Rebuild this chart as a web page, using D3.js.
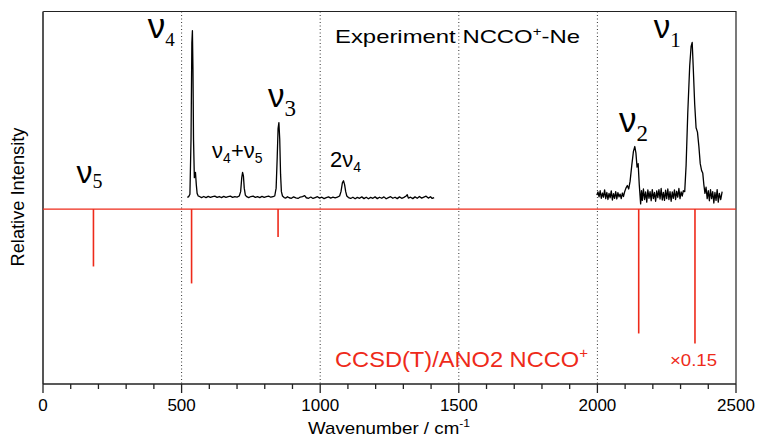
<!DOCTYPE html>
<html>
<head>
<meta charset="utf-8">
<script src="https://cdn.jsdelivr.net/npm/d3@7"></script>
<style>
  body { margin: 0; background: #fff; }
  text { font-family: "Liberation Sans", Arial, sans-serif; }
</style>
</head>
<body>
<figure style="margin:0"></figure>
<script>
// experimental trace, low range  [wavenumber, intensity]
const expLow = [
  [520, 0.068], [525, 0.070], [530, 0.085], [534, 0.40], [537, 0.95], [539, 1.02], [541, 0.80],
  [543, 0.40], [546, 0.18], [550, 0.21], [553, 0.14], [556, 0.09], [560, 0.075], [566, 0.071],
  [572, 0.066], [580, 0.072], [588, 0.066], [596, 0.073], [604, 0.067], [612, 0.071], [620, 0.074],
  [628, 0.067], [636, 0.072], [644, 0.066], [652, 0.073], [660, 0.067], [668, 0.071], [676, 0.074],
  [684, 0.067], [692, 0.071], [700, 0.069], [708, 0.075], [713, 0.10], [717, 0.18], [720, 0.21],
  [723, 0.19], [726, 0.12], [730, 0.08], [735, 0.071], [742, 0.066], [750, 0.072], [758, 0.074],
  [766, 0.067], [774, 0.071], [782, 0.066], [790, 0.073], [798, 0.067], [806, 0.071], [814, 0.074],
  [822, 0.068], [830, 0.072], [836, 0.075], [841, 0.12], [845, 0.30], [848, 0.46], [851, 0.495],
  [854, 0.40], [857, 0.20], [860, 0.10], [864, 0.075], [870, 0.066], [876, 0.063], [882, 0.071],
  [888, 0.065], [896, 0.062], [904, 0.070], [912, 0.064], [920, 0.061], [928, 0.069], [936, 0.072],
  [944, 0.077], [950, 0.065], [958, 0.062], [966, 0.069], [974, 0.061], [982, 0.066], [990, 0.071],
  [998, 0.063], [1006, 0.068], [1014, 0.060], [1022, 0.066], [1030, 0.070], [1038, 0.063],
  [1046, 0.068], [1054, 0.064], [1062, 0.069], [1070, 0.075], [1075, 0.10], [1080, 0.15],
  [1084, 0.162], [1088, 0.14], [1092, 0.10], [1096, 0.075], [1102, 0.066], [1110, 0.061],
  [1118, 0.068], [1126, 0.059], [1134, 0.067], [1142, 0.062], [1150, 0.070], [1158, 0.060],
  [1166, 0.068], [1174, 0.059], [1182, 0.067], [1190, 0.062], [1198, 0.070], [1206, 0.060],
  [1214, 0.068], [1222, 0.062], [1230, 0.070], [1238, 0.059], [1246, 0.066], [1254, 0.071],
  [1262, 0.062], [1270, 0.068], [1278, 0.060], [1286, 0.070], [1294, 0.062], [1302, 0.067],
  [1310, 0.075], [1314, 0.082], [1318, 0.063], [1326, 0.068], [1334, 0.060], [1342, 0.070],
  [1350, 0.062], [1358, 0.072], [1366, 0.063], [1374, 0.069], [1382, 0.074], [1390, 0.063],
  [1398, 0.071], [1404, 0.061], [1411, 0.066]
]

// experimental trace, high range
const expHigh = [
  [1998, 0.080], [2002, 0.098], [2006, 0.070], [2010, 0.105], [2014, 0.062], [2018, 0.092],
  [2022, 0.068], [2026, 0.110], [2030, 0.060], [2034, 0.095], [2038, 0.055], [2042, 0.090],
  [2046, 0.065], [2050, 0.104], [2054, 0.052], [2058, 0.088], [2062, 0.062], [2066, 0.100],
  [2070, 0.058], [2074, 0.094], [2078, 0.070], [2082, 0.086], [2086, 0.060], [2090, 0.092],
  [2094, 0.072], [2098, 0.098], [2103, 0.120], [2108, 0.135], [2113, 0.115], [2118, 0.160],
  [2124, 0.25], [2130, 0.33], [2135, 0.358], [2139, 0.32], [2143, 0.24], [2147, 0.26],
  [2151, 0.14], [2156, 0.030], [2159, 0.105], [2162, 0.050], [2166, 0.115], [2170, 0.055],
  [2174, 0.098], [2178, 0.040], [2182, 0.110], [2186, 0.062], [2190, 0.100], [2194, 0.048],
  [2198, 0.112], [2202, 0.060], [2206, 0.095], [2210, 0.045], [2214, 0.104], [2218, 0.066],
  [2222, 0.112], [2226, 0.058], [2230, 0.118], [2234, 0.052], [2238, 0.096], [2242, 0.050],
  [2246, 0.108], [2250, 0.060], [2254, 0.115], [2258, 0.055], [2262, 0.100], [2266, 0.045],
  [2270, 0.098], [2274, 0.062], [2278, 0.110], [2282, 0.055], [2286, 0.102], [2290, 0.068],
  [2294, 0.118], [2298, 0.060], [2302, 0.098], [2306, 0.075], [2310, 0.105], [2315, 0.10],
  [2320, 0.25], [2326, 0.55], [2333, 0.82], [2338, 0.93], [2342, 0.953], [2346, 0.80],
  [2351, 0.60], [2356, 0.465], [2361, 0.44], [2366, 0.36], [2371, 0.26], [2376, 0.22],
  [2380, 0.207], [2384, 0.14], [2388, 0.09], [2392, 0.125], [2396, 0.060], [2400, 0.105],
  [2404, 0.048], [2408, 0.112], [2412, 0.060], [2416, 0.100], [2420, 0.035], [2424, 0.095],
  [2428, 0.050], [2432, 0.112], [2436, 0.040], [2440, 0.090], [2445, 0.055], [2450, 0.100]
]

// calculated CCSD(T)/ANO2 sticks (drawn downward)
const calcPos = [182, 536, 848, 2149, 2352]
const calcInt = [0.328, 0.425, 0.160, 0.711, 0.768]

const xTicks = [0, 500, 1000, 1500, 2000, 2500]
const gridLines = [500, 1000, 1500, 2000]

// band labels: main, subscript, wavenumber, intensity
const bands = [
  { main: 'ν', sub: '5', wn: 121, val: 0.147, size: 32, subSize: 20, dy: 5 },
  { main: 'ν', sub: '4', wn: 378, val: 0.980, size: 35, subSize: 19, dy: 8 },
  { main: 'ν', sub: '3', wn: 812, val: 0.586, size: 33, subSize: 23, dy: 9 },
  { main: 'ν', sub: '2', wn: 2078, val: 0.443, size: 35, subSize: 23, dy: 9 },
  { main: 'ν', sub: '1', wn: 2203, val: 0.977, size: 33, subSize: 21, dy: 9 }
]

const width = 757
const height = 441
const margin = { top: 11.5, right: 21, bottom: 57, left: 43 }
const red = '#ee2a1a'

const svg = d3.select('figure').append('svg')
  .attr('width', width)
  .attr('height', height)

const x = d3.scaleLinear().domain([0, 2500]).range([margin.left, width - margin.right])
const y = d3.scaleLinear().domain([-1, 1.13]).range([height - margin.bottom, margin.top])

// dotted guides
svg.selectAll('.guide').data(gridLines).join('line')
  .attr('x1', d => x(d)).attr('x2', d => x(d))
  .attr('y1', y.range()[1]).attr('y2', y.range()[0])
  .attr('stroke', '#333').attr('stroke-width', 1)
  .attr('stroke-dasharray', '1,2.5')

// frame top/right
svg.append('path')
  .attr('d', `M${x(0)},${y(1.13)}H${x(2500)}V${y(-1)}`)
  .attr('fill', 'none').attr('stroke', '#222').attr('stroke-width', 1.2)

// left axis line
svg.append('line')
  .attr('x1', x(0)).attr('x2', x(0))
  .attr('y1', y(1.13)).attr('y2', y(-1))
  .attr('stroke', '#555').attr('stroke-width', 2)

// bottom axis
const xAxis = svg.append('g')
  .attr('transform', `translate(0,${y(-1)})`)
xAxis.append('line')
  .attr('x1', x(0)).attr('x2', x(2500))
  .attr('stroke', '#222').attr('stroke-width', 1.5)
xAxis.selectAll('.minor').data(x.ticks(25)).join('line')
  .attr('x1', d => x(d)).attr('x2', d => x(d))
  .attr('y1', 0).attr('y2', d => d % 500 === 0 ? 9 : 5)
  .attr('stroke', '#222').attr('stroke-width', 1.3)
xAxis.selectAll('.lbl').data(xTicks).join('text')
  .attr('x', d => x(d)).attr('y', 27)
  .attr('text-anchor', 'middle')
  .style('font-size', '17px')
  .text(d => d)

// axis titles
const xt = svg.append('text')
  .attr('x', 308).attr('y', 434)
  .attr('textLength', 162).attr('lengthAdjust', 'spacingAndGlyphs')
  .style('font-size', '17px')
xt.append('tspan').text('Wavenumber / cm')
xt.append('tspan').attr('dy', -7).style('font-size', '11px').text('-1')

svg.append('text')
  .attr('transform', 'translate(24,197) rotate(-90)')
  .attr('text-anchor', 'middle')
  .attr('textLength', 139).attr('lengthAdjust', 'spacingAndGlyphs')
  .style('font-size', '18px')
  .text('Relative Intensity')

// zero line
svg.append('line')
  .attr('x1', x(0)).attr('x2', x(2500))
  .attr('y1', y(0)).attr('y2', y(0))
  .attr('stroke', red).attr('stroke-width', 1.4)

// calculated sticks
svg.selectAll('.stick').data(calcPos).join('line')
  .attr('x1', d => x(d)).attr('x2', d => x(d))
  .attr('y1', y(0)).attr('y2', (d, i) => y(-calcInt[i]))
  .attr('stroke', red).attr('stroke-width', 1.6)

// experiment
const line = d3.line().x(d => x(d[0])).y(d => y(d[1]))
svg.selectAll('.exp').data([expLow, expHigh]).join('path')
  .attr('d', line)
  .attr('fill', 'none')
  .attr('stroke', '#000')
  .attr('stroke-width', 1.3)
  .attr('stroke-linejoin', 'round')

// band labels
bands.forEach(b => {
  const t = svg.append('text')
    .attr('x', x(b.wn)).attr('y', y(b.val))
    .style('font-size', b.size + 'px')
  t.append('tspan').text(b.main)
  t.append('tspan').attr('dy', b.dy)
    .style('font-family', '"Liberation Serif", serif')
    .style('font-size', b.subSize + 'px').text(b.sub)
})

// combination / overtone labels
const comb = svg.append('text')
  .attr('x', x(610)).attr('y', y(0.290))
  .style('font-size', '22px')
comb.append('tspan').text('ν')
comb.append('tspan').attr('dy', 5).style('font-size', '14px').text('4')
comb.append('tspan').attr('dy', -5).text('+ν')
comb.append('tspan').attr('dy', 5).style('font-size', '14px').text('5')

const over = svg.append('text')
  .attr('x', x(1035)).attr('y', y(0.242))
  .style('font-size', '22px')
over.append('tspan').text('2ν')
over.append('tspan').attr('dy', 5).style('font-size', '14px').text('4')

// legends
const expT = svg.append('text')
  .attr('x', 335).attr('y', 43.3)
  .attr('textLength', 245).attr('lengthAdjust', 'spacingAndGlyphs')
  .style('font-size', '19px')
expT.append('tspan').text('Experiment NCCO')
expT.append('tspan').attr('dy', -7).style('font-size', '12px').text('+')
expT.append('tspan').attr('dy', 7).text('-Ne')

const calcT = svg.append('text')
  .attr('x', 335).attr('y', 366.7)
  .attr('textLength', 253).attr('lengthAdjust', 'spacingAndGlyphs')
  .attr('fill', red)
  .style('font-size', '22px')
calcT.append('tspan').text('CCSD(T)/ANO2 NCCO')
calcT.append('tspan').attr('dy', -9).style('font-size', '14px').text('+')

svg.append('text')
  .attr('x', 670).attr('y', 366)
  .attr('textLength', 47).attr('lengthAdjust', 'spacingAndGlyphs')
  .attr('fill', red)
  .style('font-size', '17px')
  .text('×0.15')
</script>
</body>
</html>
